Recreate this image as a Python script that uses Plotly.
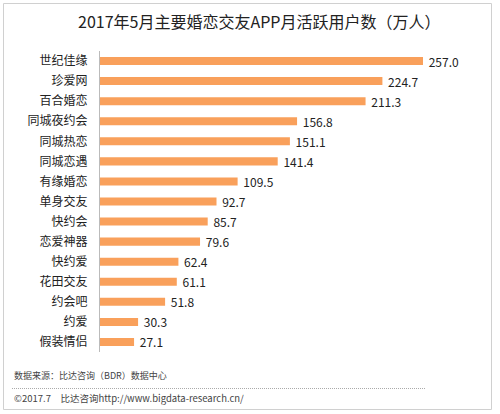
import plotly.graph_objects as go

apps = ["世纪佳缘", "珍爱网", "百合婚恋", "同城夜约会", "同城热恋", "同城恋遇", "有缘婚恋",
        "单身交友", "快约会", "恋爱神器", "快约爱", "花田交友", "约会吧", "约爱", "假装情侣"]
mau = [257.0, 224.7, 211.3, 156.8, 151.1, 141.4, 109.5, 92.7, 85.7, 79.6, 62.4, 61.1, 51.8, 30.3, 27.1]

title = "2017年5月主要婚恋交友APP月活跃用户数（万人）"
source = "数据来源：比达咨询（BDR）数据中心"
footer = "©2017.7　比达咨询http://www.bigdata-research.cn/"

W, H = 500, 414
L, R, T, B = 100, 23, 51, 62
PW, PH = W - L - R, H - T - B

def px_x(x):
    return (x - L) / PW

def px_y(y):
    return (H - B - y) / PH

FONT = "Noto Sans CJK SC, Microsoft YaHei, sans-serif"

fig = go.Figure()
fig.add_trace(go.Bar(
    x=mau, y=apps, orientation="h",
    marker=dict(color="#F9A05B", line=dict(width=0)),
    text=[f"\u00a0{v:.1f}" for v in mau], textposition="outside", constraintext="none",
    textfont=dict(size=12, color="#222222", family=FONT),
    cliponaxis=False, width=0.4, hoverinfo="skip",
))

fig.update_layout(
    width=W, height=H,
    margin=dict(l=L, r=R, t=T, b=B, pad=0, autoexpand=False),
    paper_bgcolor="white", plot_bgcolor="white",
    font=dict(family=FONT, color="#222222"),
    showlegend=False,
    xaxis=dict(range=[0, PW / (323 / 257.0)], visible=False, showgrid=False, zeroline=False,
               automargin=False),
    yaxis=dict(autorange="reversed", showgrid=False, zeroline=False, showline=True,
               linecolor="#bbbbbb", linewidth=1, ticks="", ticklabelstandoff=9,
               automargin=False,
               tickfont=dict(size=12, color="#222222", family=FONT)),
    shapes=[
        dict(type="rect", xref="paper", yref="paper",
             x0=px_x(3.5), x1=px_x(491.5), y0=px_y(409.5), y1=px_y(3.5),
             line=dict(color="#d0d0d0", width=1), fillcolor="rgba(0,0,0,0)", layer="above"),
        dict(type="line", xref="paper", yref="paper",
             x0=px_x(12), x1=px_x(425), y0=px_y(388.5), y1=px_y(388.5),
             line=dict(color="#aaaaaa", width=1, dash="1px,1px")),
    ],
    annotations=[
        dict(text=title, xref="paper", yref="paper", x=px_x(259), y=px_y(21),
             xanchor="center", yanchor="middle", showarrow=False,
             font=dict(size=16, color="#222222", family=FONT)),
        dict(text=source, xref="paper", yref="paper", x=px_x(12), y=px_y(375),
             xanchor="left", yanchor="middle", showarrow=False,
             font=dict(size=9, color="#444444", family=FONT)),
        dict(text=footer, xref="paper", yref="paper", x=px_x(12), y=px_y(398),
             xanchor="left", yanchor="middle", showarrow=False,
             font=dict(size=9.5, color="#444444", family=FONT)),
    ],
)

fig.write_html("out.html", config={"displayModeBar": False},
               post_script="document.body.style.margin='0';document.body.style.overflow='hidden';")
